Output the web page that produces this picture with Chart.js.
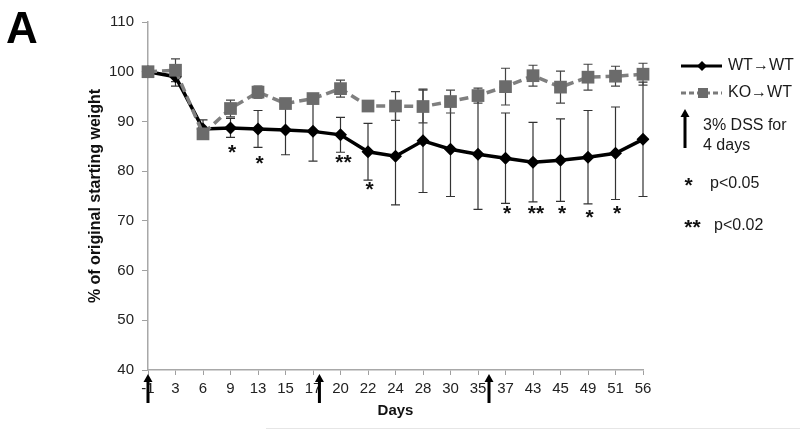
<!DOCTYPE html>
<html>
<head>
<meta charset="utf-8">
<script src="https://cdn.jsdelivr.net/npm/chart.js@4/dist/chart.umd.min.js"></script>
<style>
html,body{margin:0;padding:0;background:#fff;}
#wrap{width:800px;height:429px;position:relative;}
</style>
</head>
<body>
<div id="wrap"><canvas id="c" width="800" height="429"></canvas></div>
<script>
// ---- data ----
const days = ['-1','3','6','9','13','15','17','20','22','24','28','30','35','37','43','45','49','51','56'];
const dayValues = [-1,3,6,9,13,15,17,20,22,24,28,30,35,37,43,45,49,51,56];
const wtMean = [100, 99.0, 88.5, 88.7, 88.5, 88.3, 88.0, 87.3, 83.9, 83.0, 86.1, 84.4, 83.4, 82.6, 81.8, 82.2, 82.8, 83.6, 86.4];
const wtErr  = [0.3, 1.9, 1.8, 1.9, 3.7, 5.0, 6.0, 3.5, 5.7, 9.8, 10.4, 9.5, 11.1, 9.1, 8.0, 8.3, 9.4, 9.3, 11.5];
const koMean = [100, 100.3, 87.5, 92.6, 95.9, 93.6, 94.6, 96.6, 93.1, 93.1, 93.0, 94.0, 95.2, 97.0, 99.2, 96.9, 98.9, 99.1, 99.5];
const koErr  = [0.3, 2.3, 1.0, 1.7, 1.2, 1.0, 1.0, 1.7, 0.8, 2.9, 3.3, 2.3, 1.5, 3.7, 2.1, 3.2, 2.6, 2.0, 2.2];
const sigMarks = ['', '', '', '*', '*', '', '', '**', '*', '', '', '', '', '*', '**', '*', '*', '*', ''];
const sigY     = [null, null, null, 84.0, 81.8, null, null, 82.1, 76.6, null, null, null, null, 71.8, 71.8, 71.8, 71.0, 71.8, null];
const dssDays = [-1, 17.7, 35.8];
const yTicks = [40, 50, 60, 70, 80, 90, 100, 110];

const FONT = "'Liberation Sans', Arial, sans-serif";

function dayToPixel(xs, d) {
  for (let i = 0; i < dayValues.length - 1; i++) {
    if (d >= dayValues[i] && d <= dayValues[i + 1]) {
      const a = xs.getPixelForValue(i), b = xs.getPixelForValue(i + 1);
      return a + (b - a) * (d - dayValues[i]) / (dayValues[i + 1] - dayValues[i]);
    }
  }
  return xs.getPixelForValue(0);
}

function drawArrow(ctx, x, yTip, yBot) {
  ctx.save();
  ctx.fillStyle = '#000';
  ctx.fillRect(x - 1.5, yTip + 6, 3, yBot - yTip - 6);
  ctx.beginPath();
  ctx.moveTo(x, yTip);
  ctx.lineTo(x - 4.5, yTip + 8);
  ctx.lineTo(x + 4.5, yTip + 8);
  ctx.closePath();
  ctx.fill();
  ctx.restore();
}

function drawStar(ctx, text, cx, cy) {
  const size = 21;
  ctx.font = 'bold ' + size + 'px ' + FONT;
  ctx.textAlign = 'center';
  ctx.textBaseline = 'alphabetic';
  ctx.fillStyle = '#111';
  const m = ctx.measureText(text);
  const asc = m.actualBoundingBoxAscent, desc = m.actualBoundingBoxDescent;
  ctx.fillText(text, cx, cy + (asc - desc) / 2 - 2);
}

const overlay = {
  id: 'overlay',
  beforeDatasetsDraw(chart) {
    const ctx = chart.ctx, ys = chart.scales.y;
    const sets = [[0, wtMean, wtErr, '#333'], [1, koMean, koErr, '#444']];
    ctx.save();
    ctx.lineWidth = 1.2;
    for (const [di, mean, err, col] of sets) {
      const meta = chart.getDatasetMeta(di);
      ctx.strokeStyle = col;
      meta.data.forEach((pt, i) => {
        const x = pt.x;
        const t = ys.getPixelForValue(mean[i] + err[i]);
        const b = ys.getPixelForValue(mean[i] - err[i]);
        ctx.beginPath();
        ctx.moveTo(x, t); ctx.lineTo(x, b);
        ctx.moveTo(x - 4.5, t); ctx.lineTo(x + 4.5, t);
        ctx.moveTo(x - 4.5, b); ctx.lineTo(x + 4.5, b);
        ctx.stroke();
      });
    }
    ctx.restore();
  },
  afterDraw(chart) {
    const ctx = chart.ctx, xs = chart.scales.x, ys = chart.scales.y;
    ctx.save();
    // significance stars
    sigMarks.forEach((m, i) => {
      if (!m) return;
      const dx = m.length > 1 ? 3 : 1.5;
      drawStar(ctx, m, xs.getPixelForValue(i) + dx, ys.getPixelForValue(sigY[i]));
    });
    // DSS arrows below the axis
    const axisY = chart.chartArea.bottom;
    dssDays.forEach(d => drawArrow(ctx, dayToPixel(xs, d), axisY + 4, axisY + 33));

    // legend
    ctx.lineCap = 'butt';
    ctx.strokeStyle = '#000'; ctx.lineWidth = 3;
    ctx.beginPath(); ctx.moveTo(681, 66); ctx.lineTo(722, 66); ctx.stroke();
    ctx.fillStyle = '#000';
    ctx.beginPath(); ctx.moveTo(702, 61); ctx.lineTo(707, 66); ctx.lineTo(702, 71); ctx.lineTo(697, 66); ctx.closePath(); ctx.fill();
    ctx.strokeStyle = '#7a7a7a'; ctx.setLineDash([5, 3]);
    ctx.beginPath(); ctx.moveTo(681, 93); ctx.lineTo(722, 93); ctx.stroke();
    ctx.setLineDash([]);
    ctx.fillStyle = '#6b6b6b'; ctx.fillRect(698, 88, 10, 10);

    ctx.fillStyle = '#1a1a1a';
    ctx.font = '16px ' + FONT;
    ctx.textAlign = 'left'; ctx.textBaseline = 'middle';
    ctx.fillText('WT\u2192WT', 728, 66);
    ctx.fillText('KO\u2192WT', 728, 93);
    drawArrow(ctx, 685, 109, 148);
    ctx.fillStyle = '#1a1a1a';
    ctx.font = '16px ' + FONT;
    ctx.textAlign = 'left'; ctx.textBaseline = 'middle';
    ctx.fillText('3% DSS for', 703, 126);
    ctx.fillText('4 days', 703, 146);
    ctx.fillText('p<0.05', 710, 184);
    ctx.fillText('p<0.02', 714, 226);
    drawStar(ctx, '*', 688.5, 184);
    drawStar(ctx, '**', 692.5, 226);

    // panel letter
    ctx.fillStyle = '#000';
    ctx.font = 'bold 44px ' + FONT;
    ctx.textAlign = 'left'; ctx.textBaseline = 'alphabetic';
    ctx.fillText('A', 6, 43);

    // faint border at bottom
    ctx.strokeStyle = '#e6e6e6'; ctx.lineWidth = 1;
    ctx.beginPath(); ctx.moveTo(266, 428.5); ctx.lineTo(800, 428.5); ctx.stroke();
    ctx.restore();
  }
};

new Chart(document.getElementById('c'), {
  type: 'line',
  data: {
    labels: days,
    datasets: [
      {
        label: 'WT\u2192WT',
        data: wtMean,
        borderColor: '#000',
        backgroundColor: '#000',
        borderWidth: 3.5,
        pointStyle: 'rectRot',
        pointRadius: 6.5,
        pointBorderWidth: 0,
        pointBackgroundColor: '#000',
        tension: 0,
        order: 1
      },
      {
        label: 'KO\u2192WT',
        data: koMean,
        borderColor: '#7f7f7f',
        backgroundColor: '#6b6b6b',
        borderWidth: 3.5,
        borderDash: [9, 5],
        pointStyle: 'rect',
        pointRadius: 9,
        pointBorderWidth: 0,
        pointBackgroundColor: '#6b6b6b',
        tension: 0,
        order: 0
      }
    ]
  },
  options: {
    responsive: false,
    animation: false,
    events: [],
    layout: { padding: { left: 78, top: 22, right: 157, bottom: 0 } },
    plugins: { legend: { display: false }, tooltip: { enabled: false } },
    scales: {
      x: {
        type: 'category',
        offset: false,
        afterFit: s => { s.height = 59; },
        grid: { drawOnChartArea: false, drawTicks: true, tickLength: 5, color: '#a0a0a0', tickColor: '#a0a0a0' },
        border: { display: true, color: '#a8a8a8', width: 1.5 },
        ticks: { autoSkip: false, maxRotation: 0, padding: 5, color: '#222', font: { family: FONT, size: 15 } },
        title: { display: true, text: 'Days', color: '#111', font: { family: FONT, size: 15, weight: 'bold' }, padding: { top: 0, bottom: 9 } }
      },
      y: {
        min: 40, max: 110,
        afterFit: s => { s.width = 70; },
        afterBuildTicks: s => { s.ticks = yTicks.map(v => ({ value: v })); },
        grid: { drawOnChartArea: false, drawTicks: true, tickLength: 6, color: '#a0a0a0', tickColor: '#a0a0a0' },
        border: { display: true, color: '#a8a8a8', width: 1.5 },
        ticks: { padding: 8, color: '#222', font: { family: FONT, size: 15 } },
        title: { display: true, text: '% of original starting weight', color: '#111', font: { family: FONT, size: 16, weight: 'bold' }, padding: { top: 8, bottom: 0 } }
      }
    }
  },
  plugins: [overlay]
});
</script>
</body>
</html>
